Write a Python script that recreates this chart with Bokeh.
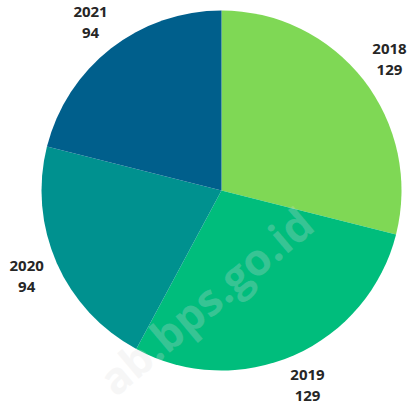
import numpy as np
from bokeh.plotting import figure
from bokeh.models import ColumnDataSource
from bokeh.core.properties import value
from bokeh.embed import file_html
from bokeh.resources import INLINE

years = ["2018", "2019", "2020", "2021"]
counts = [129, 129, 94, 94]
colors = ["#7FD855", "#00BD7C", "#00918F", "#005F8C"]

W, H = 410, 411
p = figure(width=W, height=H, output_backend="svg", toolbar_location=None,
           x_range=(0, W), y_range=(0, H), min_border=0)
p.axis.visible = False
p.grid.visible = False
p.outline_line_color = None
p.background_fill_color = "white"

cx, cy, R = 221, 221, 180
vals = np.array(counts, dtype=float)
frac = vals / vals.sum()
cum = np.concatenate([[0], np.cumsum(frac)])
start = np.pi / 2 - 2 * np.pi * cum[:-1]
end = np.pi / 2 - 2 * np.pi * cum[1:]
mid = (start + end) / 2
lr = 213

src = ColumnDataSource(dict(year=years, count=[str(c) for c in counts], color=colors,
                            start=start, end=end,
                            lx=cx + lr * np.cos(mid), ly=cy + lr * np.sin(mid)))

p.wedge(x=cx, y=cy, radius=R, start_angle="start", end_angle="end", direction="clock",
        fill_color="color", line_color=None, source=src)

# watermark
p.text(x=[205], y=[111], text=["ab.bps.go.id"], angle=np.deg2rad(40),
       text_font=value("Open Sans"), text_font_style="bold", text_font_size="44px",
       text_color="#dcdcdc", text_alpha=0.25, text_align="center", text_baseline="middle")

common = dict(text_font=value("Open Sans"), text_font_style="bold", text_font_size="15px",
              text_color="#262626", text_align="center", text_baseline="middle", source=src)
p.text(x="lx", y="ly", text="year", y_offset=-10.5, **common)
p.text(x="lx", y="ly", text="count", y_offset=10.5, **common)

open("out.html", "w").write(file_html(p, INLINE))
